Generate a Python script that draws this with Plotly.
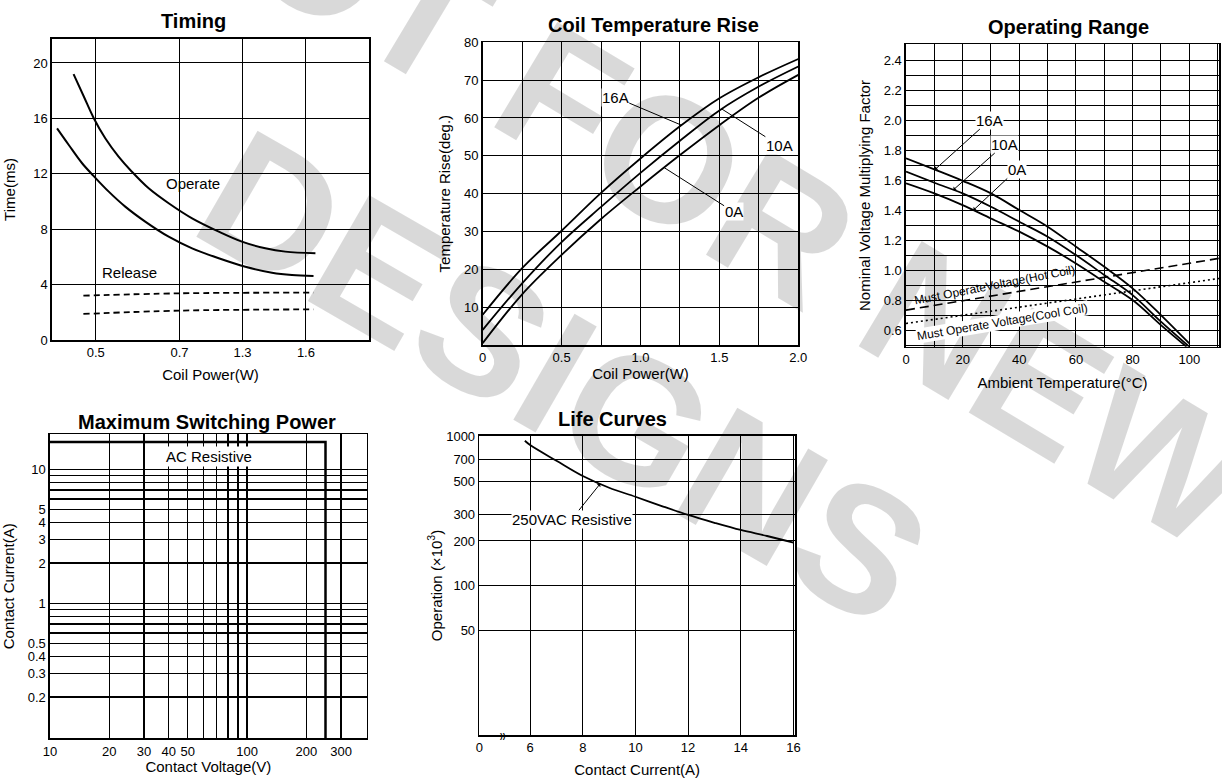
import numpy as np
import plotly.graph_objects as go

W, H = 1222, 781
FONT = "Liberation Sans"

# ---------------- Timing (x in grid positions; tick labels are not linear in W) ----------------
timing_tick_pos = [1.38, 4.02, 6.01, 8.01]
timing_tick_text = ["0.5", "0.7", "1.3", "1.6"]
timing_y_ticks = [0, 4, 8, 12, 16, 20]
operate_x = [0.68, 1.0, 1.31, 1.68, 2.10, 2.52, 3.05, 3.68, 4.42, 5.26, 5.99, 6.73, 7.36, 8.31]
operate_y = [19.2, 17.6, 16.05, 14.56, 13.24, 12.15, 10.95, 9.87, 8.78, 7.82, 7.10, 6.62, 6.38, 6.26]
operate2_x = [0.16, 0.53, 0.95, 1.31, 1.79, 2.31, 2.94, 3.68, 4.42, 5.26, 6.10, 6.94, 7.57, 8.25]
operate2_y = [15.28, 14.08, 12.76, 11.85, 10.71, 9.63, 8.55, 7.46, 6.62, 5.90, 5.29, 4.86, 4.69, 4.62]
release_x = [0.99, 4.02, 8.25]
release_hi = [3.2, 3.37, 3.42]
release_lo = [1.88, 2.12, 2.21]

# ---------------- Coil Temperature Rise ----------------
coil_x = [0, 0.25, 0.5, 0.75, 1.0, 1.25, 1.5, 1.75, 2.0]
coil_16a = [8, 20.3, 30.2, 40.2, 49.3, 57.8, 65.2, 70.8, 75.6]
coil_10a = [4, 16.3, 27.2, 36.5, 45.5, 54.0, 62.0, 68.3, 73.6]
coil_0a = [0.5, 13.4, 23.8, 33.3, 41.9, 50.2, 58.1, 65.4, 71.4]
coil_x_ticks = [0, 0.5, 1.0, 1.5, 2.0]
coil_x_text = ["0", "0.5", "1.0", "1.5", "2.0"]
coil_y_ticks = [10, 20, 30, 40, 50, 60, 70, 80]

# ---------------- Operating Range ----------------
op_x = [0, 10, 20, 30, 40, 50, 60, 70, 80, 90, 100]
op_16a = [1.745, 1.671, 1.595, 1.511, 1.40, 1.289, 1.156, 1.022, 0.878, 0.70, 0.511]
op_10a = [1.656, 1.582, 1.511, 1.422, 1.322, 1.222, 1.10, 0.967, 0.833, 0.656, 0.489]
op_0a_x = [0, 10, 20, 30, 40, 50, 60, 70, 80, 90, 99]
op_0a = [1.578, 1.511, 1.433, 1.344, 1.256, 1.156, 1.044, 0.922, 0.80, 0.633, 0.489]
hot_x = [0, 110.5]
hot_y = [0.733, 1.078]
cool_x = [0, 110.5]
cool_y = [0.644, 0.944]
op_x_ticks = [0, 20, 40, 60, 80, 100]
op_y_ticks = [0.6, 0.8, 1.0, 1.2, 1.4, 1.6, 1.8, 2.0, 2.2, 2.4]

# ---------------- Maximum Switching Power ----------------
msp_x = [10, 250, 250]
msp_y = [16, 16, 0.098]
msp_x_ticks = [10, 20, 30, 40, 50, 60, 70, 80, 90, 100, 200, 300]
msp_x_text = ["10", "20", "30", "40", "50", "", "", "", "", "100", "200", "300"]
msp_y_ticks = [0.2, 0.3, 0.4, 0.5, 0.6, 0.7, 0.8, 0.9, 1, 2, 3, 4, 5, 6, 7, 8, 9, 10]
msp_y_text = ["0.2", "0.3", "0.4", "0.5", "", "", "", "", "1", "2", "3", "4", "5", "", "", "", "", "10"]

# ---------------- Life Curves ----------------
life_x = [5.8, 6, 7, 8, 9, 10, 11, 12, 13, 14, 15, 16]
life_y = [940, 880, 690, 545, 455, 396, 343, 299, 265, 237, 216, 195]
life_x_ticks = [4.07, 6, 8, 10, 12, 14, 16]
life_x_text = ["0", "6", "8", "10", "12", "14", "16"]
life_y_ticks = [50, 100, 200, 300, 500, 700, 1000]


def dom_x(l, r):
    return [l / W, r / W]


def dom_y(t, b):
    return [1 - b / H, 1 - t / H]


def axis(domain, anchor, **kw):
    d = dict(domain=domain, anchor=anchor, showline=True, mirror=True,
             linecolor="black", linewidth=1.6, showgrid=True,
             gridcolor="black", gridwidth=1, zeroline=False, ticks="",
             tickfont=dict(family=FONT, size=13, color="black"),
             fixedrange=True, automargin=False)
    d.update(kw)
    return d


def tfont(size=15):
    return dict(family=FONT, size=size, color="black")


fig = go.Figure()
curve = dict(color="black", width=2, shape="spline", smoothing=1.0)

# Timing traces
fig.add_trace(go.Scatter(x=operate_x, y=operate_y, mode="lines", line=curve, xaxis="x", yaxis="y"))
fig.add_trace(go.Scatter(x=operate2_x, y=operate2_y, mode="lines", line=curve, xaxis="x", yaxis="y"))
fig.add_trace(go.Scatter(x=release_x, y=release_hi, mode="lines", line=dict(color="black", width=1.8, dash="6px,4px", shape="spline"), xaxis="x", yaxis="y"))
fig.add_trace(go.Scatter(x=release_x, y=release_lo, mode="lines", line=dict(color="black", width=1.8, dash="6px,4px", shape="spline"), xaxis="x", yaxis="y"))

# Coil temperature traces
for ys in (coil_16a, coil_10a, coil_0a):
    fig.add_trace(go.Scatter(x=coil_x, y=ys, mode="lines", line=dict(curve, width=1.8), xaxis="x2", yaxis="y2"))

# Operating range traces
for xs, ys in ((op_x, op_16a), (op_x, op_10a), (op_0a_x, op_0a)):
    fig.add_trace(go.Scatter(x=xs, y=ys, mode="lines", line=dict(curve, width=1.8), xaxis="x3", yaxis="y3"))
fig.add_trace(go.Scatter(x=hot_x, y=hot_y, mode="lines", line=dict(color="black", width=1.6, dash="9px,5px"), xaxis="x3", yaxis="y3"))
fig.add_trace(go.Scatter(x=cool_x, y=cool_y, mode="lines", line=dict(color="black", width=1.6, dash="2px,3px"), xaxis="x3", yaxis="y3"))

# Max switching power
fig.add_trace(go.Scatter(x=msp_x, y=msp_y, mode="lines", line=dict(color="black", width=2.5), xaxis="x4", yaxis="y4"))

# Life curve
fig.add_trace(go.Scatter(x=life_x, y=life_y, mode="lines", line=dict(curve, width=1.8), xaxis="x5", yaxis="y5"))

layout = dict(
    width=W, height=H, autosize=False, showlegend=False,
    margin=dict(l=0, r=0, t=0, b=0, pad=0, autoexpand=False),
    paper_bgcolor="white", plot_bgcolor="white",
    xaxis=axis(dom_x(52, 369), "y", range=[0, 10], tickvals=timing_tick_pos, ticktext=timing_tick_text,
               title=dict(text="Coil Power(W)", font=tfont(), standoff=10)),
    yaxis=axis(dom_y(39, 340), "x", range=[0, 21.73], tickvals=timing_y_ticks,
               title=dict(text="Time(ms)", font=tfont(), standoff=14)),
    xaxis2=axis(dom_x(482.7, 798.3), "y2", range=[0, 2], tickvals=coil_x_ticks, ticktext=coil_x_text,
                minor=dict(dtick=0.25, tick0=0, showgrid=True, gridcolor="black", gridwidth=1, ticks=""),
                title=dict(text="Coil Power(W)", font=tfont(), standoff=4)),
    yaxis2=axis(dom_y(42.3, 345), "x2", range=[0, 80], tickvals=coil_y_ticks,
                title=dict(text="Temperature Rise(deg.)", font=tfont(), standoff=10)),
    xaxis3=axis(dom_x(906, 1219), "y3", range=[0, 110.5], tickvals=op_x_ticks,
                minor=dict(dtick=10, tick0=0, showgrid=True, gridcolor="black", gridwidth=1, ticks=""),
                title=dict(text="Ambient Temperature(°C)", font=tfont(), standoff=11)),
    yaxis3=axis(dom_y(44.3, 346.7), "x3", range=[0.489, 2.505], tickvals=op_y_ticks, tickformat=".1f",
                minor=dict(dtick=0.1, tick0=0, showgrid=True, gridcolor="black", gridwidth=1, ticks=""),
                title=dict(text="Nominal Voltage Multiplying Factor", font=tfont(), standoff=9)),
    xaxis4=axis(dom_x(50, 366.7), "y4", type="log", range=[1, 2.607], tickvals=msp_x_ticks, ticktext=msp_x_text,
                gridwidth=1.4, title=dict(text="Contact Voltage(V)", font=tfont(), standoff=0)),
    yaxis4=axis(dom_y(434.3, 738.3), "x4", type="log", range=[-1.007, 1.261], tickvals=msp_y_ticks, ticktext=msp_y_text,
                gridwidth=1.4, title=dict(text="Contact Current(A)", font=tfont(), standoff=16)),
    xaxis5=axis(dom_x(479.3, 795), "y5", range=[4.07, 16.06], tickvals=life_x_ticks, ticktext=life_x_text,
                title=dict(text="Contact Current(A)", font=tfont(), standoff=10)),
    yaxis5=axis(dom_y(436, 735), "x5", type="log", range=[1, 3.005], tickvals=life_y_ticks,
                title=dict(text="Operation (×10<sup>3</sup>)", font=tfont(), standoff=0)),
)

ann = []
# watermark (translucent black: light grey on white, black lines stay black)
wm_font = dict(family=FONT, size=178, color="rgba(0,0,0,0.15)", weight="bold")
ann.append(dict(text="NOT FOR NEW", x=694 / W, y=1 - 175 / H, xref="paper", yref="paper",
                showarrow=False, textangle=31, font=wm_font, xanchor="center", yanchor="middle"))
ann.append(dict(text="DESIGNS", x=563 / W, y=1 - 378 / H, xref="paper", yref="paper",
                showarrow=False, textangle=30, font=wm_font, xanchor="center", yanchor="middle"))

# panel titles
for txt, px, py in [("Timing", 193, 21), ("Coil Temperature Rise", 653, 25), ("Operating Range", 1068, 27),
                    ("Maximum Switching Power", 207, 422), ("Life Curves", 612, 419)]:
    ann.append(dict(text="<b>" + txt + "</b>", x=px / W, y=1 - py / H, xref="paper", yref="paper",
                    xanchor="center", yanchor="middle", showarrow=False,
                    font=dict(family=FONT, size=20, color="black")))

lab = dict(family=FONT, size=15, color="black")
# Timing labels
ann.append(dict(text="Operate", x=4.45, y=11.3, xref="x", yref="y", showarrow=False, font=lab,
                xanchor="center", yanchor="middle"))
ann.append(dict(text="Release", x=2.46, y=4.9, xref="x", yref="y", showarrow=False, font=lab,
                xanchor="center", yanchor="middle"))

# Coil temp leaders
for txt, tx, ty, px, series in [("16A", 0.84, 65.5, 1.26, coil_16a), ("10A", 1.88, 52.7, 1.515, coil_10a),
                                ("0A", 1.59, 35.2, 1.15, coil_0a)]:
    py = float(np.interp(px, coil_x, series))
    ann.append(dict(text=txt, x=px, y=py, ax=tx, ay=ty, xref="x2", yref="y2", axref="x2", ayref="y2",
                    showarrow=True, arrowhead=0, arrowwidth=1, arrowcolor="black", font=lab,
                    bgcolor="white", borderpad=0))

# Operating range leaders
for txt, tx, ty, px, xs, series in [("16A", 29.6, 2.0, 10.2, op_x, op_16a), ("10A", 34.9, 1.84, 16.7, op_x, op_10a),
                                    ("0A", 39.1, 1.67, 23.8, op_0a_x, op_0a)]:
    py = float(np.interp(px, xs, series))
    ann.append(dict(text=txt, x=px, y=py, ax=tx, ay=ty, xref="x3", yref="y3", axref="x3", ayref="y3",
                    showarrow=True, arrowhead=1, arrowsize=0.8, arrowwidth=1, arrowcolor="black", font=lab,
                    bgcolor="white", borderpad=0))
ann.append(dict(text="Must OperateVoltage(Hot Coil)", x=31.4, y=0.9, xref="x3", yref="y3", showarrow=False,
                textangle=-11, font=dict(family=FONT, size=12, color="black"), xanchor="center", yanchor="middle"))
ann.append(dict(text="Must Operate Voltage(Cool Coil)", x=33.9, y=0.653, xref="x3", yref="y3", showarrow=False,
                textangle=-9.5, font=dict(family=FONT, size=12, color="black"), bgcolor="white", borderpad=0,
                xanchor="center", yanchor="middle"))

# Max switching label
ann.append(dict(text="AC Resistive", x=np.log10(64), y=np.log10(12.4), xref="x4", yref="y4", showarrow=False,
                font=lab, bgcolor="white", xanchor="center", yanchor="middle"))

# Life curve label
tip_x = 8.66
tip_y = float(10 ** np.interp(tip_x, life_x, np.log10(life_y)))
ann.append(dict(text="250VAC Resistive", x=tip_x, y=np.log10(tip_y), ax=7.58, ay=np.log10(280),
                xref="x5", yref="y5", axref="x5", ayref="y5", showarrow=True, arrowhead=1, arrowsize=0.8,
                arrowwidth=1, arrowcolor="black", font=lab, bgcolor="white", borderpad=0))
ann.append(dict(text="<b>))</b>", x=4.97, y=1, xref="x5", yref="y5", showarrow=False,
                font=dict(family=FONT, size=8, color="black"), xanchor="center", yanchor="middle"))

layout["annotations"] = ann
layout["shapes"] = [dict(type="line", xref="x5", yref="y5", x0=4.07, x1=4.9, y0=1, y1=1,
                         line=dict(color="black", width=2.5))]

fig.update_layout(**layout)
fig.write_html("out.html", config={"displayModeBar": False, "staticPlot": True},
               post_script="document.body.style.margin='0px';document.body.style.overflow='hidden';")
